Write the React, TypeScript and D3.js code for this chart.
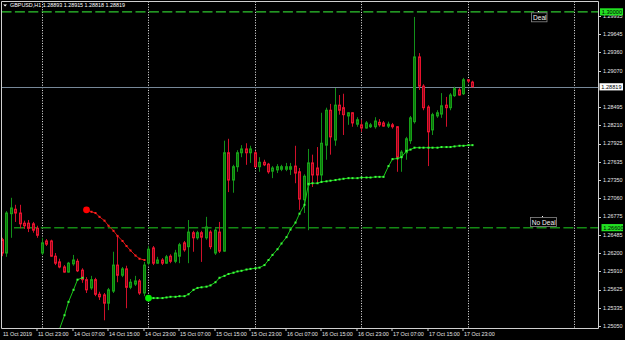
import React from 'react';
import * as d3 from 'd3';

// ---------- data ----------
const FIRST_BAR = -8; // bar index of the first candle (index 0 = 11 Oct 23:00, H1 bars)

const opens = [
  1.2641, 1.2620, 1.2682, 1.2689, 1.2683, 1.2667, 1.2667, 1.2666,
  1.2659, 1.2620, 1.2639, 1.2639, 1.2615, 1.2606, 1.2598, 1.2590, 1.2603, 1.2607, 1.2593,
  1.2578, 1.2565, 1.2578, 1.2555, 1.2554, 1.2541, 1.2560, 1.2601, 1.2585, 1.2595,
  1.2566, 1.2571, 1.2576, 1.2557, 1.2604, 1.2628, 1.2604, 1.2609, 1.2604, 1.2615,
  1.2607, 1.2615, 1.2636, 1.2630, 1.2652, 1.2644, 1.2652, 1.2644, 1.2653, 1.2620,
  1.2653, 1.2623, 1.2778, 1.2735, 1.2756, 1.2778, 1.2784, 1.2778, 1.2778, 1.2756,
  1.2763, 1.2760, 1.2749, 1.2751, 1.2752, 1.2752, 1.2752, 1.2757, 1.2748, 1.2704,
  1.2727, 1.2762, 1.2754, 1.2743, 1.2790, 1.2845, 1.2798, 1.2853, 1.2849, 1.2836,
  1.2841, 1.2823, 1.2822, 1.2817, 1.2819, 1.2819, 1.2826, 1.2825, 1.2820, 1.2822,
  1.2819, 1.2771, 1.2778, 1.2797, 1.2827, 1.2929, 1.2883, 1.2850, 1.2814, 1.2836,
  1.2839, 1.2853, 1.2849, 1.2868, 1.2877, 1.2871, 1.2893, 1.28893,
];
const highs = [
  1.2644, 1.2686, 1.2707, 1.2696, 1.2696, 1.2671, 1.2672, 1.2669,
  1.2663, 1.2644, 1.2642, 1.2641, 1.2620, 1.2611, 1.2601, 1.2606, 1.2617, 1.2611, 1.2596,
  1.2582, 1.2584, 1.2581, 1.2559, 1.2557, 1.2565, 1.2622, 1.2648, 1.2598, 1.2600,
  1.2579, 1.2584, 1.2579, 1.2606, 1.2631, 1.2631, 1.2614, 1.2612, 1.2617, 1.2618,
  1.2625, 1.2636, 1.2639, 1.2672, 1.2655, 1.2655, 1.2655, 1.2677, 1.2656, 1.2659,
  1.2669, 1.2797, 1.2800, 1.2759, 1.2782, 1.2790, 1.2793, 1.2789, 1.2781, 1.2771,
  1.2767, 1.2762, 1.2757, 1.2760, 1.2759, 1.2762, 1.2762, 1.2789, 1.2754, 1.2744,
  1.2784, 1.2775, 1.2787, 1.2841, 1.2849, 1.2855, 1.2880, 1.2869, 1.2871, 1.2842,
  1.2842, 1.2834, 1.2830, 1.2828, 1.2825, 1.2834, 1.2831, 1.2828, 1.2827, 1.2825,
  1.2820, 1.2782, 1.2803, 1.2836, 1.2992, 1.2935, 1.2886, 1.2853, 1.2841, 1.2845,
  1.2872, 1.2866, 1.2872, 1.2882, 1.2880, 1.2896, 1.2894, 1.28915,
];
const lows = [
  1.2615, 1.2614, 1.2644, 1.2669, 1.2659, 1.2658, 1.2653, 1.2652,
  1.2644, 1.2617, 1.2631, 1.2614, 1.2601, 1.2596, 1.2589, 1.2589, 1.2600, 1.2590, 1.2573,
  1.2557, 1.2562, 1.2552, 1.2546, 1.2514, 1.2530, 1.2557, 1.2574, 1.2582, 1.2533,
  1.2563, 1.2568, 1.2554, 1.2552, 1.2601, 1.2601, 1.2603, 1.2601, 1.2603, 1.2604,
  1.2604, 1.2604, 1.2622, 1.2604, 1.2622, 1.2641, 1.2606, 1.2641, 1.2626, 1.2617,
  1.2620, 1.2622, 1.2716, 1.2715, 1.2748, 1.2771, 1.2759, 1.2762, 1.2754, 1.2748,
  1.2757, 1.2745, 1.2738, 1.2746, 1.2749, 1.2749, 1.2743, 1.2730, 1.2688, 1.2683,
  1.2656, 1.2724, 1.2730, 1.2732, 1.2767, 1.2775, 1.2789, 1.2838, 1.2806, 1.2822,
  1.2819, 1.2819, 1.2811, 1.2816, 1.2817, 1.2816, 1.2819, 1.2819, 1.2817, 1.2816,
  1.2748, 1.2748, 1.2767, 1.2792, 1.2824, 1.2877, 1.2845, 1.2757, 1.2806, 1.2833,
  1.2833, 1.2819, 1.2845, 1.2866, 1.2868, 1.2869, 1.2888, 1.28818,
];
const closes = [
  1.2620, 1.2683, 1.2691, 1.2683, 1.2666, 1.2663, 1.2659, 1.2656,
  1.2648, 1.2636, 1.2634, 1.2615, 1.2604, 1.2598, 1.2590, 1.2604, 1.2609, 1.2592, 1.2578,
  1.2562, 1.2578, 1.2555, 1.2551, 1.2541, 1.2562, 1.2601, 1.2585, 1.2595, 1.2566,
  1.2574, 1.2576, 1.2557, 1.2601, 1.2626, 1.2604, 1.2609, 1.2604, 1.2614, 1.2607,
  1.2620, 1.2633, 1.2625, 1.2653, 1.2644, 1.2652, 1.2645, 1.2661, 1.2630, 1.2656,
  1.2623, 1.2778, 1.2735, 1.2756, 1.2778, 1.2784, 1.2778, 1.2784, 1.2756, 1.2763,
  1.2759, 1.2748, 1.2754, 1.2756, 1.2756, 1.2756, 1.2756, 1.2746, 1.2705, 1.2741,
  1.2762, 1.2743, 1.2743, 1.2793, 1.2845, 1.2803, 1.2853, 1.2845, 1.2838, 1.2841,
  1.2825, 1.2830, 1.2817, 1.2825, 1.2822, 1.2828, 1.2822, 1.2820, 1.2823, 1.2819,
  1.2771, 1.2779, 1.2800, 1.2833, 1.2929, 1.2883, 1.2849, 1.2811, 1.2838, 1.2841,
  1.2852, 1.2849, 1.2869, 1.2879, 1.2869, 1.2893, 1.2891, 1.28819,
];

// trailing-stop style indicator (green = up, red = down)
const upAStart = 4;
const upA = [1.2480, 1.2500, 1.2522, 1.2543, 1.2562, 1.2578, 1.2581];
const downStart = 11;
const down = [1.2688, 1.2685, 1.2683, 1.2677, 1.2671, 1.2663, 1.2655, 1.2647, 1.2639, 1.2631, 1.2624, 1.2616, 1.2611, 1.2609];
const upBStart = 25;
const upB = [
  1.2549, 1.2549, 1.2549, 1.2549, 1.2550, 1.2551, 1.2551, 1.2552, 1.2552, 1.2555,
  1.2562, 1.2565, 1.2566, 1.2567, 1.2569, 1.2574, 1.2581, 1.2584, 1.2587, 1.2589,
  1.2591, 1.2592, 1.2594, 1.2595, 1.2596, 1.2597, 1.2601, 1.2609, 1.2617, 1.2626,
  1.2635, 1.2645, 1.2657, 1.2668, 1.2682, 1.2696, 1.2729, 1.2730, 1.2730, 1.2732,
  1.2733, 1.2734, 1.2735, 1.2736, 1.2737, 1.2738, 1.2738, 1.2738, 1.2739, 1.2739,
  1.2739, 1.2740, 1.2740, 1.2740, 1.2757, 1.2768, 1.2769, 1.2771, 1.2781, 1.2783,
  1.2786, 1.2786, 1.2786, 1.2786, 1.2786, 1.2786, 1.2787, 1.2787, 1.2787, 1.2788,
  1.2789, 1.2789, 1.2790, 1.2790,
];

const xTickBars = [0, 8, 16, 24, 32, 40, 48, 56, 64, 72, 80, 88, 96];
const xTickLabels = [
  '11 Oct 23:00', '14 Oct 07:00', '14 Oct 15:00', '14 Oct 23:00', '15 Oct 07:00',
  '15 Oct 15:00', '15 Oct 23:00', '16 Oct 07:00', '16 Oct 15:00', '16 Oct 23:00',
  '17 Oct 07:00', '17 Oct 15:00', '17 Oct 23:00',
];
const firstDateLabel = '11 Oct 2019';
const separatorBars = [1, 25, 49, 73, 97, 121];
const yTicks = [
  1.25050, 1.25335, 1.25625, 1.25910, 1.26200, 1.26485, 1.26775, 1.27060, 1.27350,
  1.27635, 1.27925, 1.28210, 1.28495, 1.29070, 1.29360, 1.29645, 1.29935,
];
const dealLevel = 1.30000;
const noDealLevel = 1.26600;
const bidPrice = 1.28819;
const header = 'GBPUSD,H1 1.28893 1.28915 1.28818 1.28819';

// ---------- layout ----------
const W = 625;
const H = 340;
const L = 1.5, T = 1.5, R = 598.5, B = 328.5;
const FONT = "'Liberation Sans', Arial, sans-serif";

const xs = d3.scaleLinear().domain([0, 1]).range([37.26, 37.26 + 4.438]);
const ys = d3.scaleLinear().domain([1.2505, 1.29935]).range([326, 16]);

const bx = (i: number) => Math.round(xs(i)) + 0.5;

function fmt(v: number) {
  return v.toFixed(5);
}

export default function App() {
  const bars = opens.map((o, k) => ({ i: FIRST_BAR + k, o, h: highs[k], l: lows[k], c: closes[k] }));
  const line = d3.line<[number, number]>().x((d) => d[0]).y((d) => d[1]);
  const pts = (start: number, vals: number[]) => vals.map((v, k) => [bx(start + k), ys(v)] as [number, number]);
  const upAPts = pts(upAStart, upA);
  const downPts = pts(downStart, down);
  const upBPts = pts(upBStart, upB);

  const yDeal = ys(dealLevel);
  const yNo = ys(noDealLevel);
  const yBid = ys(bidPrice);

  const priceBox = (y: number, label: string, fill: string, x0: number) => (
    <g>
      <rect x={x0} y={y - 3.6} width={623 - x0} height={7.2} fill={fill} />
      <text x={x0 + 1.8} y={y + 2.1} fontSize={5.6} fill="#000" fontFamily={FONT}>{label}</text>
    </g>
  );

  return (
    <svg width={W} height={H} style={{ position: 'absolute', left: 0, top: 0, display: 'block' }}>
      <defs>
        <clipPath id="plot">
          <rect x={2} y={2} width={R - 2.5} height={B - 2.5} />
        </clipPath>
      </defs>
      <rect x={0} y={0} width={W} height={H} fill="#000" />

      <g clipPath="url(#plot)">
        {/* period separators */}
        {separatorBars.map((i) => (
          <line key={'s' + i} x1={bx(i)} x2={bx(i)} y1={T} y2={B} stroke="#f0f0f0" strokeDasharray="1 1.6" strokeWidth={1} />
        ))}
        {/* bid line */}
        <line x1={L} x2={R} y1={Math.round(yBid) + 0.5} y2={Math.round(yBid) + 0.5} stroke="#778899" strokeWidth={1} />
        {/* deal levels */}
        <line x1={L} x2={R} y1={yDeal} y2={yDeal} stroke="#2fc82f" strokeWidth={1.2} strokeDasharray="10 3.4" />
        <line x1={14} x2={R} y1={yNo} y2={yNo} stroke="#148a14" strokeWidth={1.5} strokeDasharray="10 3.4" />

        {/* candles */}
        {bars.map((b) => {
          const x = bx(b.i);
          const up = b.c >= b.o;
          const yo = ys(b.o), yc = ys(b.c);
          const top = Math.min(yo, yc);
          const hgt = Math.max(1, Math.abs(yo - yc));
          return (
            <g key={'b' + b.i}>
              <line x1={x} x2={x} y1={ys(b.h)} y2={ys(b.l)} stroke={up ? '#12901a' : '#d0102a'} strokeWidth={1} />
              <rect x={x - 1} y={top} width={2} height={hgt} fill={up ? '#0c740c' : '#8c0a1c'} stroke={up ? '#16a016' : '#e8122e'} strokeWidth={1} />
            </g>
          );
        })}

        {/* indicator */}
        <path d={line(upAPts) || ''} fill="none" stroke="#18c818" strokeWidth={1} />
        {upAPts.map((p, k) => (
          <rect key={'ua' + k} x={p[0] - 1} y={p[1] - 1} width={2} height={2} fill="#3cff3c" />
        ))}
        <path d={line(downPts) || ''} fill="none" stroke="#d81010" strokeWidth={1} />
        {downPts.map((p, k) => (
          <rect key={'dn' + k} x={p[0] - 1} y={p[1] - 1} width={2} height={2} fill="#ff2020" />
        ))}
        <circle cx={downPts[0][0]} cy={downPts[0][1]} r={3.4} fill="#ff0000" />
        <path d={line(upBPts) || ''} fill="none" stroke="#18c818" strokeWidth={1} />
        {upBPts.map((p, k) => (
          <rect key={'ub' + k} x={p[0] - 1} y={p[1] - 1} width={2} height={2} fill="#3cff3c" />
        ))}
        <circle cx={upBPts[0][0]} cy={upBPts[0][1]} r={3.4} fill="#00f000" />

        {/* labels */}
        <rect x={531.5} y={12.8} width={15.5} height={9} fill="#000" stroke="#8a8a8a" strokeWidth={0.8} />
        <text x={533} y={20.4} fontSize={6.6} fill="#f2f2f2" fontFamily={FONT}>Deal</text>
        <rect x={538} y={11} width={1} height={1} fill="#fff" />
        <rect x={530.5} y={217.4} width={26} height={9} fill="#000" stroke="#8a8a8a" strokeWidth={0.8} />
        <text x={531.8} y={225} fontSize={6.6} fill="#f2f2f2" fontFamily={FONT}>No Deal</text>
        <rect x={542} y={216} width={1} height={1} fill="#fff" />
      </g>

      {/* header */}
      <path d="M3.2,4.6 L7,4.6 L5.1,6.6 Z" fill="#fff" />
      <text x={10} y={7.4} fontSize={5.4} fill="#fff" fontFamily={FONT}>{header}</text>

      {/* frame */}
      <line x1={L} x2={R} y1={T} y2={T} stroke="#d0d0d0" />
      <line x1={L} x2={L} y1={T} y2={B} stroke="#d0d0d0" />
      <line x1={R} x2={R} y1={T} y2={B} stroke="#d0d0d0" />
      <line x1={L} x2={R} y1={B} y2={B} stroke="#d0d0d0" />

      {/* y axis */}
      {yTicks.map((v) => (
        <g key={'y' + v}>
          <line x1={R} x2={R + 2.5} y1={Math.round(ys(v)) + 0.5} y2={Math.round(ys(v)) + 0.5} stroke="#d0d0d0" />
          <text x={603} y={ys(v) + 1.7} fontSize={5.4} fill="#e6e6e6" fontFamily={FONT}>{fmt(v)}</text>
        </g>
      ))}
      {priceBox(yDeal, fmt(dealLevel), '#22e022', 600)}
      {priceBox(yBid, fmt(bidPrice), '#ffffff', 599.5)}
      {priceBox(yNo, fmt(noDealLevel), '#22e022', 601.5)}

      {/* x axis */}
      <text x={bx(FIRST_BAR) + 0.5} y={335.8} fontSize={5.4} fill="#e6e6e6" fontFamily={FONT}>{firstDateLabel}</text>
      {xTickBars.map((i, k) => (
        <g key={'x' + i}>
          <line x1={bx(i) - 0.5} x2={bx(i) - 0.5} y1={B} y2={B + 2.5} stroke="#d0d0d0" />
          <text x={bx(i) + 0.5} y={335.8} fontSize={5.4} fill="#e6e6e6" fontFamily={FONT}>{xTickLabels[k]}</text>
        </g>
      ))}
    </svg>
  );
}
